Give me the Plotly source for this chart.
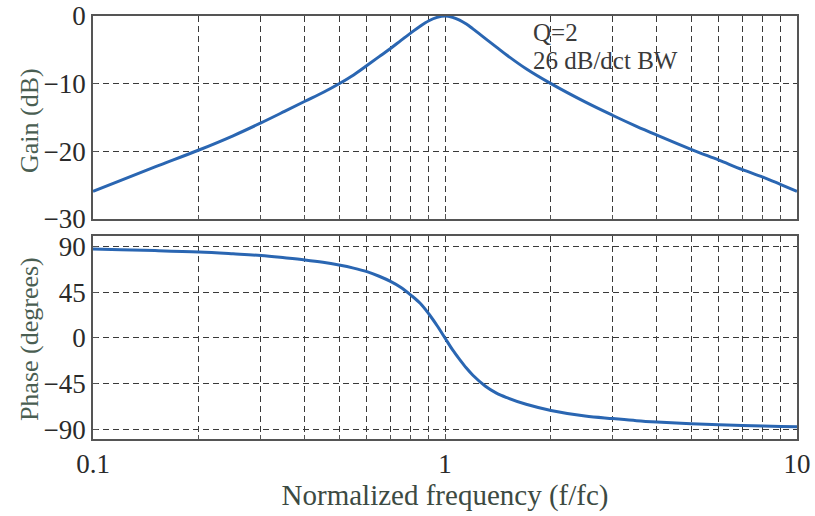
import plotly.graph_objects as go
from plotly.subplots import make_subplots

# Normalized frequency f/fc
freq = [0.1, 0.12, 0.15, 0.2, 0.25, 0.3, 0.35, 0.4, 0.45, 0.5, 0.55, 0.6, 0.65,
        0.7, 0.75, 0.8, 0.85, 0.9, 0.95, 1.0, 1.05, 1.1, 1.15, 1.2, 1.3, 1.4,
        1.5, 1.7, 2.0, 2.5, 3.0, 3.5, 4.0, 5.0, 6.0, 7.0, 8.0, 9.0, 10.0]

# Band-pass response, Q = 2
gain_db = [-25.9, -24.3, -22.3, -19.8, -17.7, -15.8, -14.1, -12.6, -11.3, -10.0,
           -8.7, -7.3, -6.0, -4.8, -3.6, -2.5, -1.5, -0.7, -0.2, 0.0, -0.2, -0.6,
           -1.2, -1.9, -3.3, -4.6, -5.8, -7.8, -10.0, -12.7, -14.7, -16.3, -17.6,
           -19.7, -21.3, -22.7, -23.8, -24.9, -25.9]

phase_deg = [87.1, 86.5, 85.7, 84.3, 82.5, 80.8, 78.6, 76.5, 74.2, 71.5, 68.5,
             65.0, 60.5, 55.5, 49.5, 42.0, 34.0, 23.5, 12.0, 0.0, -11.5, -21.0,
             -29.5, -36.5, -47.0, -54.0, -58.5, -65.0, -71.0, -76.5, -79.0, -81.0,
             -82.3, -84.0, -85.0, -85.7, -86.3, -86.8, -87.1]

x_ticks = [0.1, 1, 10]
x_tick_text = ["0.1", "1", "10"]
gain_ticks = [-30, -20, -10, 0]
phase_ticks = [-90, -45, 0, 45, 90]

LINE = "#2a66b2"
GRID = "#3a3a3a"
FRAME = "#555555"
TICKFONT = dict(family="Liberation Serif", size=27, color="#2a2a2a")
TITLEFONT = dict(family="Liberation Serif", size=26, color="#4a5e52")
XTITLEFONT = dict(family="Liberation Serif", size=29, color="#3c4a42")
NOTEFONT = dict(family="Liberation Serif", size=25, color="#3a3a3a")

fig = make_subplots(rows=2, cols=1, shared_xaxes=False, vertical_spacing=0.04)

fig.add_trace(go.Scatter(x=freq, y=gain_db, mode="lines",
                         line=dict(color=LINE, width=3, shape="spline"),
                         showlegend=False), row=1, col=1)
fig.add_trace(go.Scatter(x=freq, y=phase_deg, mode="lines",
                         line=dict(color=LINE, width=3, shape="spline"),
                         showlegend=False), row=2, col=1)

xcommon = dict(type="log", range=[-1, 1], tickvals=x_ticks, ticktext=x_tick_text,
               showgrid=True, gridcolor=GRID, griddash="6px,4px", gridwidth=1,
               minor=dict(dtick="D1", showgrid=True, gridcolor=GRID,
                          griddash="6px,4px", gridwidth=1, ticks="inside",
                          ticklen=4, tickcolor=FRAME),
               ticks="inside", ticklen=5, tickcolor=FRAME,
               showline=True, linecolor=FRAME, linewidth=1.5, mirror=True,
               zeroline=False, tickfont=TICKFONT, automargin=False)

fig.update_xaxes(**xcommon, row=1, col=1, showticklabels=False)
fig.update_xaxes(**xcommon, row=2, col=1, showticklabels=True,
                 title=dict(text="Normalized frequency (f/fc)", font=XTITLEFONT,
                            standoff=6))

ycommon = dict(showgrid=True, gridcolor=GRID, griddash="6px,4px", gridwidth=1,
               ticks="inside", ticklen=5, tickcolor=FRAME,
               showline=True, linecolor=FRAME, linewidth=1.5, mirror=True,
               zeroline=False, tickfont=TICKFONT, automargin=False)

fig.update_yaxes(**ycommon, row=1, col=1, range=[-30, 0], tickvals=gain_ticks)
fig.update_yaxes(**ycommon, row=2, col=1, range=[-99, 100], tickvals=phase_ticks)

# Vertical axis titles, placed just left of the tick labels
fig.add_annotation(x=-0.091, y=0.754, xref="paper", yref="paper",
                   text="Gain (dB)", textangle=-90, showarrow=False,
                   xanchor="center", yanchor="middle", font=TITLEFONT)
fig.add_annotation(x=-0.091, y=0.236, xref="paper", yref="paper",
                   text="Phase (degrees)", textangle=-90, showarrow=False,
                   xanchor="center", yanchor="middle", font=TITLEFONT)

fig.add_annotation(x=0.243, y=-2.4, xref="x", yref="y", text="Q=2",
                   showarrow=False, xanchor="left", yanchor="middle",
                   font=NOTEFONT)
fig.add_annotation(x=0.243, y=-6.6, xref="x", yref="y", text="26 dB/dct BW",
                   showarrow=False, xanchor="left", yanchor="middle",
                   font=NOTEFONT)

fig.update_layout(
    width=815, height=516,
    margin=dict(l=93, r=18, t=16, b=77),
    paper_bgcolor="white", plot_bgcolor="white",
)
fig.update_yaxes(domain=[0.520, 1.0], row=1, col=1)
fig.update_yaxes(domain=[0.0, 0.480], row=2, col=1)

fig.write_html("out.html")
